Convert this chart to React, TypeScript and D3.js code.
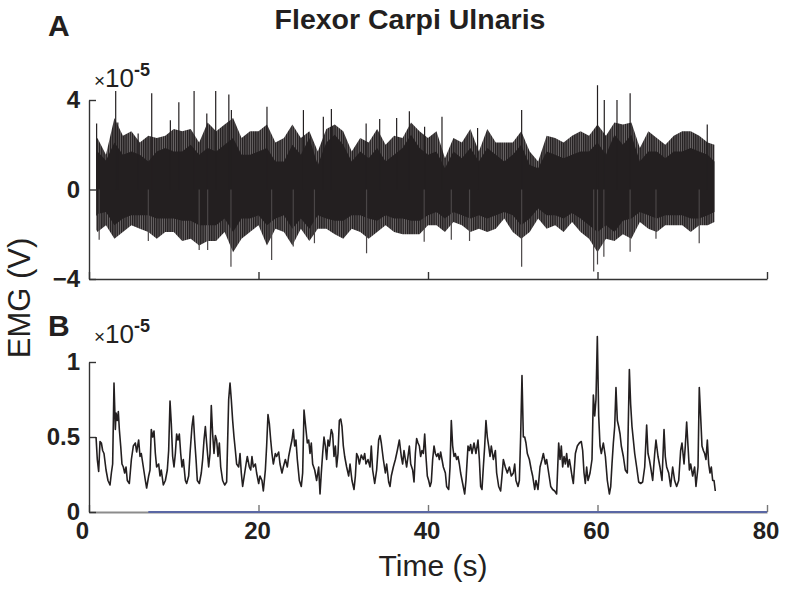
import * as d3 from 'd3';
import { useEffect, useRef } from 'react';

// axes
const xTicks = [0, 20, 40, 60, 80];
const rawTicks = [-4, 0, 4];
const envTicks = [0, 0.5, 1];

// panel A, raw EMG (x1e-5 V), read once per second:
// solid core edges and the edges of the bristly fringe around it
const rawTime = [0.85, 1, 2, 3, 4, 5, 6, 7, 8, 9, 10, 11, 12, 13, 14, 15, 16, 17, 18, 19, 20,
    21, 22, 23, 24, 25, 26, 27, 28, 29, 30, 31, 32, 33, 34, 35, 36, 37, 38, 39, 40,
    41, 42, 43, 44, 45, 46, 47, 48, 49, 50, 51, 52, 53, 54, 55, 56, 57, 58, 59, 60,
    61, 62, 63, 64, 65, 66, 67, 68, 69, 70, 71, 72, 73, 73.8];
const rawFringeHi = [2.2, 2.3, 1.55, 3.2, 2.4, 2.6, 2.1, 2.4, 2.3, 2.4, 2.7, 2.6, 2.7, 2.1, 3.0, 2.6, 2.9, 3.2, 2.3, 2.6, 2.6,
    2.9, 2.1, 2.3, 2.9, 2.3, 2.6, 1.7, 2.7, 2.9, 2.6, 1.7, 2.3, 2.1, 2.7, 2.0, 2.4, 2.3, 3.0, 2.6, 2.3,
    2.6, 1.4, 2.3, 2.1, 2.7, 1.7, 2.7, 2.1, 2.1, 2.1, 2.6, 1.7, 1.25, 2.4, 2.3, 2.1, 2.4, 2.6, 2.4, 2.9,
    2.4, 3.0, 2.9, 3.0, 1.85, 2.6, 2.3, 2.0, 2.4, 2.6, 2.6, 2.4, 2.1, 2.0];
const rawCoreHi = [1.6, 1.7, 1.3, 2.1, 1.55, 1.7, 1.55, 1.25, 1.7, 1.85, 1.7, 1.7, 2.0, 1.55, 1.85, 1.7, 2.0, 2.3, 1.55, 1.55, 1.7,
    1.85, 1.25, 1.25, 2.0, 1.55, 2.3, 1.1, 2.1, 2.45, 2.0, 1.25, 1.7, 1.4, 1.85, 1.25, 1.55, 1.85, 2.45, 1.85, 1.55,
    1.7, 0.95, 1.7, 1.4, 1.85, 1.25, 1.85, 1.55, 1.25, 1.55, 2.0, 1.1, 0.95, 1.7, 1.55, 1.4, 1.55, 1.7, 1.7, 2.1,
    1.55, 2.45, 2.0, 2.45, 1.25, 1.7, 1.7, 1.4, 1.7, 1.7, 1.85, 1.7, 1.55, 1.25];
const rawCoreLo = [-1.2, -1.1, -1.0, -1.6, -1.3, -1.15, -1.15, -1.15, -1.3, -1.3, -1.3, -1.4, -1.4, -1.6, -1.6, -1.6, -1.3, -1.9, -1.3, -1.3, -1.15,
    -1.6, -1.3, -1.15, -1.75, -1.3, -1.75, -1.15, -1.3, -1.4, -1.4, -1.15, -1.15, -1.3, -1.4, -1.15, -1.3, -1.3, -1.4, -1.4, -1.15,
    -1.0, -1.3, -1.0, -1.15, -1.3, -1.15, -1.3, -1.15, -1.0, -1.15, -1.6, -1.3, -0.85, -1.15, -1.15, -1.3, -1.05, -1.3, -1.6, -1.9,
    -1.6, -1.9, -1.4, -1.3, -1.0, -1.15, -1.3, -1.15, -1.15, -1.15, -1.3, -1.3, -1.15, -1.0];
const rawFringeLo = [-1.8, -1.9, -1.6, -2.2, -1.9, -1.6, -1.75, -1.9, -2.2, -1.9, -1.9, -2.3, -2.2, -2.5, -2.3, -2.3, -1.9, -2.8, -2.2, -1.9, -1.6,
    -2.5, -1.75, -1.9, -2.5, -1.75, -2.3, -1.75, -1.75, -2.0, -2.2, -1.75, -1.9, -2.2, -1.9, -1.6, -1.9, -2.0, -2.0, -2.0, -1.6,
    -1.6, -1.9, -1.45, -1.6, -1.9, -1.75, -1.9, -1.75, -1.3, -1.9, -2.2, -1.9, -1.3, -1.75, -1.6, -1.9, -1.45, -1.9, -2.2, -2.8,
    -2.2, -2.3, -2.0, -2.2, -1.45, -1.75, -1.9, -1.6, -1.6, -1.6, -1.9, -1.6, -1.6, -1.45];

// isolated tall spikes of the raw trace
const spikeUpTime = [0.9, 3.15, 3.4, 5.8, 7.4, 9.6, 10.6, 12.4, 13.9, 14.95, 16.5, 16.8, 21.0, 25.3, 27.65, 28.6,
    32.7, 34.3, 36.3, 37.8, 39.6, 41.65, 45.85, 51.05, 60.0, 60.8, 62.3, 63.85, 72.95];
const spikeUpValue = [2.95, 4.4, 3.0, 2.5, 4.3, 3.1, 3.9, 4.4, 3.4, 4.4, 4.25, 3.55, 3.7, 3.55, 3.25, 3.6,
    2.95, 3.15, 3.2, 3.5, 2.8, 3.25, 2.75, 3.55, 4.66, 4.0, 4.0, 4.3, 2.9];
const spikeDownTime = [1.2, 7.0, 13.0, 14.0, 16.75, 21.55, 24.1, 26.6, 32.75, 39.55, 42.75, 44.9, 51.05,
    59.55, 60.0, 60.75, 63.85, 66.9, 72.0];
const spikeDownValue = [-2.25, -2.3, -2.7, -2.7, -3.45, -3.15, -2.55, -2.4, -2.85, -2.33, -2.25, -2.3, -3.45,
    -3.67, -3.35, -3.0, -2.78, -2.2, -2.4];

// panel B, EMG envelope (x1e-5 V)
const envTime = [0.83, 0.98, 1.14, 1.30, 1.46, 1.61, 1.77, 2.01, 2.24, 2.48, 2.64, 2.79, 2.95, 3.11, 3.19, 3.34, 3.46, 3.58,
    3.74, 3.89, 4.05, 4.21, 4.37, 4.52, 4.76, 5.00, 5.23, 5.47, 5.62, 5.86, 6.02, 6.17, 6.41, 6.65, 6.80, 7.04, 7.20,
    7.35, 7.51, 7.67, 7.83, 7.98, 8.22, 8.38, 8.53, 8.77, 9.01, 9.24, 9.40, 9.56, 9.71, 9.87, 10.03, 10.19, 10.34,
    10.50, 10.66, 10.82, 10.97, 11.13, 11.37, 11.52, 11.76, 11.92, 12.15, 12.31, 12.47, 12.63, 12.78, 13.02, 13.25,
    13.41, 13.57, 13.73, 13.88, 14.12, 14.28, 14.43, 14.59, 14.75, 14.91, 15.06, 15.22, 15.38, 15.54, 15.77, 16.01,
    16.24, 16.48, 16.64, 16.79, 16.95, 17.11, 17.27, 17.42, 17.66, 17.82, 17.97, 18.13, 18.37, 18.53, 18.68, 18.92,
    19.08, 19.23, 19.39, 19.63, 19.78, 20.02, 20.18, 20.41, 20.57, 20.81, 20.96, 21.12, 21.28, 21.44, 21.59, 21.75,
    21.99, 22.14, 22.38, 22.54, 22.77, 22.93, 23.17, 23.40, 23.56, 23.80, 23.95, 24.11, 24.27, 24.42, 24.58, 24.82,
    25.05, 25.21, 25.37, 25.60, 25.76, 25.92, 26.08, 26.23, 26.39, 26.63, 26.86, 27.10, 27.26, 27.41, 27.57, 27.73,
    27.89, 28.04, 28.20, 28.36, 28.59, 28.75, 28.91, 29.07, 29.22, 29.38, 29.54, 29.70, 29.85, 30.01, 30.17, 30.40,
    30.64, 30.80, 31.03, 31.27, 31.43, 31.58, 31.74, 31.90, 32.13, 32.37, 32.53, 32.68, 32.92, 33.16, 33.31, 33.47,
    33.71, 33.94, 34.18, 34.34, 34.49, 34.73, 34.97, 35.12, 35.36, 35.52, 35.67, 35.91, 36.15, 36.38, 36.62,
    36.85, 37.01, 37.17, 37.33, 37.48, 37.64, 37.80, 37.96, 38.19, 38.35, 38.51, 38.66, 38.82, 38.98, 39.13, 39.29,
    39.45, 39.61, 39.76, 39.92, 40.08, 40.24, 40.39, 40.55, 40.71, 40.87, 41.02, 41.18, 41.34, 41.49, 41.65, 41.81,
    42.05, 42.20, 42.44, 42.60, 42.75, 42.91, 43.07, 43.22, 43.38, 43.54, 43.70, 43.85, 44.09, 44.33, 44.48, 44.72,
    44.88, 45.03, 45.19, 45.43, 45.66, 45.90, 46.06, 46.21, 46.37, 46.53, 46.69, 46.84, 47.00, 47.16, 47.32, 47.47,
    47.71, 47.95, 48.10, 48.34, 48.57, 48.73, 48.89, 49.12, 49.36, 49.60, 49.83, 50.07, 50.23, 50.38, 50.62, 50.78,
    50.93, 51.09, 51.25, 51.41, 51.56, 51.72, 51.96, 52.19, 52.35, 52.59, 52.74, 52.98, 53.22, 53.45, 53.61, 53.85,
    54.00, 54.24, 54.48, 54.71, 54.95, 55.18, 55.42, 55.58, 55.73, 55.89, 56.05, 56.21, 56.36, 56.52, 56.68, 56.83,
    56.99, 57.15, 57.39, 57.62, 57.86, 58.09, 58.25, 58.41, 58.56, 58.72, 58.88, 59.12, 59.35, 59.51, 59.67, 59.82,
    59.98, 60.14, 60.30, 60.45, 60.69, 60.93, 61.16, 61.40, 61.56, 61.71, 61.87, 62.03, 62.18, 62.34, 62.50, 62.66,
    62.81, 63.05, 63.28, 63.52, 63.76, 63.91, 64.07, 64.23, 64.39, 64.62, 64.86, 65.09, 65.33, 65.57, 65.80, 65.96,
    66.12, 66.27, 66.51, 66.75, 66.90, 67.14, 67.37, 67.61, 67.85, 68.00, 68.16, 68.40, 68.63, 68.87, 69.10, 69.34,
    69.58, 69.81, 69.97, 70.21, 70.36, 70.52, 70.68, 70.84, 70.99, 71.23, 71.46, 71.62, 71.86, 72.01, 72.17, 72.33,
    72.49, 72.64, 72.80, 72.96, 73.12, 73.27, 73.43, 73.59, 73.75, 73.90];
const envValue = [0.50, 0.35, 0.27, 0.47, 0.46, 0.41, 0.39, 0.28, 0.21, 0.18, 0.26, 0.32, 0.86, 0.55, 0.66, 0.61, 0.67, 0.55,
    0.44, 0.32, 0.30, 0.26, 0.30, 0.21, 0.19, 0.35, 0.44, 0.46, 0.40, 0.48, 0.37, 0.39, 0.30, 0.21, 0.16, 0.24, 0.28,
    0.55, 0.50, 0.54, 0.39, 0.30, 0.32, 0.24, 0.28, 0.18, 0.21, 0.28, 0.41, 0.74, 0.59, 0.37, 0.30, 0.39, 0.52,
    0.48, 0.52, 0.39, 0.30, 0.35, 0.21, 0.19, 0.24, 0.39, 0.57, 0.64, 0.48, 0.35, 0.21, 0.19, 0.26,
    0.35, 0.48, 0.57, 0.46, 0.30, 0.39, 0.71, 0.52, 0.39, 0.51, 0.48, 0.37, 0.46, 0.30, 0.21, 0.18,
    0.20, 0.75, 0.86, 0.75, 0.61, 0.50, 0.41, 0.32, 0.30, 0.39, 0.26, 0.17, 0.26, 0.32, 0.37, 0.30,
    0.28, 0.37, 0.30, 0.32, 0.26, 0.19, 0.24, 0.21, 0.14, 0.28, 0.44, 0.65, 0.59, 0.48, 0.39, 0.32,
    0.39, 0.37, 0.40, 0.32, 0.26, 0.30, 0.35, 0.30, 0.37, 0.44, 0.48, 0.55, 0.44, 0.48, 0.35, 0.21,
    0.17, 0.26, 0.68, 0.55, 0.46, 0.48, 0.39, 0.46, 0.32, 0.28, 0.21, 0.30, 0.12, 0.26, 0.39, 0.50,
    0.44, 0.35, 0.48, 0.44, 0.55, 0.52, 0.37, 0.44, 0.30, 0.39, 0.61, 0.62, 0.57, 0.44, 0.37, 0.30,
    0.24, 0.32, 0.21, 0.15, 0.24, 0.39, 0.37, 0.32, 0.38, 0.35, 0.39, 0.32, 0.35, 0.30, 0.44, 0.28,
    0.19, 0.28, 0.48, 0.51, 0.46, 0.35, 0.26, 0.32, 0.20, 0.17, 0.24, 0.30, 0.35, 0.41, 0.48,
    0.37, 0.32, 0.41, 0.35, 0.30, 0.37, 0.44, 0.32, 0.28, 0.20, 0.39, 0.49, 0.46, 0.44, 0.37, 0.41,
    0.39, 0.52, 0.37, 0.24, 0.21, 0.17, 0.20, 0.35, 0.44, 0.39, 0.37, 0.39, 0.35, 0.40, 0.35, 0.30,
    0.26, 0.17, 0.15, 0.30, 0.61, 0.44, 0.37, 0.39, 0.35, 0.37, 0.32, 0.26, 0.19, 0.12, 0.21, 0.44,
    0.41, 0.45, 0.39, 0.46, 0.39, 0.48, 0.35, 0.17, 0.15, 0.30, 0.44, 0.61, 0.50, 0.44, 0.37, 0.44,
    0.35, 0.41, 0.26, 0.17, 0.14, 0.24, 0.35, 0.30, 0.26, 0.30, 0.24, 0.26, 0.32, 0.21, 0.17, 0.21,
    0.50, 0.91, 0.50, 0.50, 0.46, 0.39, 0.35, 0.28, 0.24, 0.15, 0.21, 0.15, 0.30, 0.35, 0.39, 0.32,
    0.35, 0.26, 0.17, 0.15, 0.14, 0.12, 0.46, 0.35, 0.44, 0.30, 0.37, 0.32, 0.39, 0.30, 0.35, 0.30,
    0.24, 0.19, 0.39, 0.44, 0.46, 0.47, 0.41, 0.26, 0.19, 0.30, 0.21, 0.26, 0.35, 0.78, 0.64, 0.75,
    1.17, 0.64, 0.44, 0.39, 0.46, 0.37, 0.21, 0.12, 0.17, 0.32, 0.46, 0.57, 0.83, 0.61, 0.57, 0.52,
    0.44, 0.37, 0.28, 0.26, 0.95, 0.72, 0.57, 0.48, 0.39, 0.30, 0.20, 0.19, 0.20, 0.30, 0.58, 0.39,
    0.35, 0.30, 0.21, 0.39, 0.48, 0.37, 0.30, 0.21, 0.55, 0.37, 0.30, 0.26, 0.17, 0.30, 0.21, 0.17,
    0.21, 0.41, 0.46, 0.32, 0.44, 0.60, 0.44, 0.28, 0.32, 0.24, 0.30, 0.17, 0.30, 0.83, 0.64, 0.44,
    0.41, 0.39, 0.35, 0.48, 0.32, 0.26, 0.30, 0.21, 0.21, 0.14];

// blue line lying on the zero line of panel B (start, end in s)
const baselineSpan = [7, 80];

const FONT = "'Liberation Sans', Arial, Helvetica, sans-serif";
const INK = '#231f20';

export default function App() {
    const ref = useRef<any>();

    useEffect(() => {
        const svg = d3.select<any, any>(ref.current);
        svg.selectAll('*').remove();

        const x = d3.scaleLinear().domain([0, 80]).range([89, 767]);
        const yA = d3.scaleLinear().domain([-4, 4]).range([279, 100]);
        const yB = d3.scaleLinear().domain([0, 1]).range([512, 362]);

        // thin vertical strokes, so the fringe of the raw trace reads like many single samples
        const pattern = svg.append('defs').append('pattern')
            .attr('id', 'bristles')
            .attr('patternUnits', 'userSpaceOnUse')
            .attr('width', 2.2)
            .attr('height', 10);
        pattern.append('rect').attr('width', 2.2).attr('height', 10).attr('fill', '#6e6a6b');
        pattern.append('rect').attr('width', 1.3).attr('height', 10).attr('fill', INK);

        const styleAxis = (g: any, color: string) => {
            g.select('.domain').attr('stroke', color).attr('stroke-width', 1.4);
            g.selectAll('.tick line').attr('stroke', color).attr('stroke-width', 1.4);
            g.selectAll('.tick text')
                .attr('fill', '#231f20')
                .style('font-family', FONT)
                .style('font-size', '24px')
                .style('font-weight', 'bold');
        };

        // ---- panel A ----
        const rawIdx = d3.range(rawTime.length);
        const fringe = d3.area<number>()
            .x(i => x(rawTime[i]))
            .y0(i => yA(rawFringeLo[i]))
            .y1(i => yA(rawFringeHi[i]));
        const core = d3.area<number>()
            .x(i => x(rawTime[i]))
            .y0(i => yA(rawCoreLo[i]))
            .y1(i => yA(rawCoreHi[i]));

        svg.append('path').attr('d', fringe(rawIdx)).attr('fill', 'url(#bristles)');
        svg.append('path').attr('d', core(rawIdx)).attr('fill', INK);

        svg.append('g').selectAll('line')
            .data(d3.range(spikeUpTime.length))
            .join('line')
            .attr('x1', i => x(spikeUpTime[i]))
            .attr('x2', i => x(spikeUpTime[i]))
            .attr('y1', yA(0))
            .attr('y2', i => yA(spikeUpValue[i]))
            .attr('stroke', INK)
            .attr('stroke-width', 1.2);
        svg.append('g').selectAll('line')
            .data(d3.range(spikeDownTime.length))
            .join('line')
            .attr('x1', i => x(spikeDownTime[i]))
            .attr('x2', i => x(spikeDownTime[i]))
            .attr('y1', yA(0))
            .attr('y2', i => yA(spikeDownValue[i]))
            .attr('stroke', '#4a4647')
            .attr('stroke-width', 1.2);

        svg.append('g')
            .attr('transform', `translate(0,${yA(-4)})`)
            .call(d3.axisBottom(x).tickValues(xTicks).tickSizeInner(-7).tickSizeOuter(0).tickFormat(() => ''))
            .call((g: any) => styleAxis(g, '#333'));
        svg.append('g')
            .attr('transform', `translate(${x(0)},0)`)
            .call(d3.axisLeft(yA).tickValues(rawTicks).tickSizeInner(-7).tickSizeOuter(0).tickPadding(9).tickFormat(d3.format('d')))
            .call((g: any) => styleAxis(g, '#333'));

        // ---- panel B ----
        svg.append('g')
            .attr('transform', `translate(0,${yB(0)})`)
            .call(d3.axisBottom(x).tickValues(xTicks).tickSizeInner(-7).tickSizeOuter(0).tickPadding(10).tickFormat(d3.format('d')))
            .call((g: any) => {
                styleAxis(g, '#777');
                g.select('.domain').attr('stroke', '#8c8c8c').attr('stroke-width', 2);
                g.selectAll('.tick text').attr('dx', (d: number) => (d === 0 ? -7 : -1.5));
            });
        svg.append('line')
            .attr('x1', x(baselineSpan[0]))
            .attr('x2', x(baselineSpan[1]))
            .attr('y1', yB(0))
            .attr('y2', yB(0))
            .attr('stroke', '#5a67a4')
            .attr('stroke-width', 2);
        svg.append('g')
            .attr('transform', `translate(${x(0)},0)`)
            .call(d3.axisLeft(yB).tickValues(envTicks).tickSizeInner(-7).tickSizeOuter(0).tickPadding(9).tickFormat(d3.format('')))
            .call((g: any) => styleAxis(g, '#333'));

        const envLine = d3.line<number>()
            .x(i => x(envTime[i]))
            .y(i => yB(envValue[i]));
        svg.append('path')
            .attr('d', envLine(d3.range(envTime.length)))
            .attr('fill', 'none')
            .attr('stroke', INK)
            .attr('stroke-width', 1.6)
            .attr('stroke-linejoin', 'round');

        // ---- texts ----
        const text = (tx: number, ty: number, s: string, size: number, weight: string, anchor = 'start') =>
            svg.append('text')
                .attr('x', tx).attr('y', ty)
                .attr('text-anchor', anchor)
                .attr('fill', INK)
                .style('font-family', FONT)
                .style('font-size', `${size}px`)
                .style('font-weight', weight)
                .text(s);

        text(410, 29, 'Flexor Carpi Ulnaris', 28.5, 'bold', 'middle');
        text(48, 36, 'A', 30, 'bold');
        text(48, 336, 'B', 30, 'bold');

        const exponent = (ty: number) => {
            const t = svg.append('text')
                .attr('x', 94).attr('y', ty)
                .attr('fill', INK)
                .style('font-family', FONT);
            t.append('tspan').style('font-size', '19px').text('×');
            t.append('tspan').style('font-size', '26px').text('10');
            t.append('tspan').attr('dy', -11).style('font-size', '18px').style('font-weight', 'bold').text('-5');
        };
        exponent(87);
        exponent(343);

        svg.append('text')
            .attr('transform', `translate(30,298) rotate(-90)`)
            .attr('text-anchor', 'middle')
            .attr('fill', INK)
            .style('font-family', FONT)
            .style('font-size', '31px')
            .text('EMG (V)');
        text(433, 576, 'Time (s)', 30, 'normal', 'middle');
    });

    return (
        <svg ref={ref} width={797} height={592} style={{ position: 'absolute', left: 0, top: 0, background: '#fff' }}></svg>
    );
}
